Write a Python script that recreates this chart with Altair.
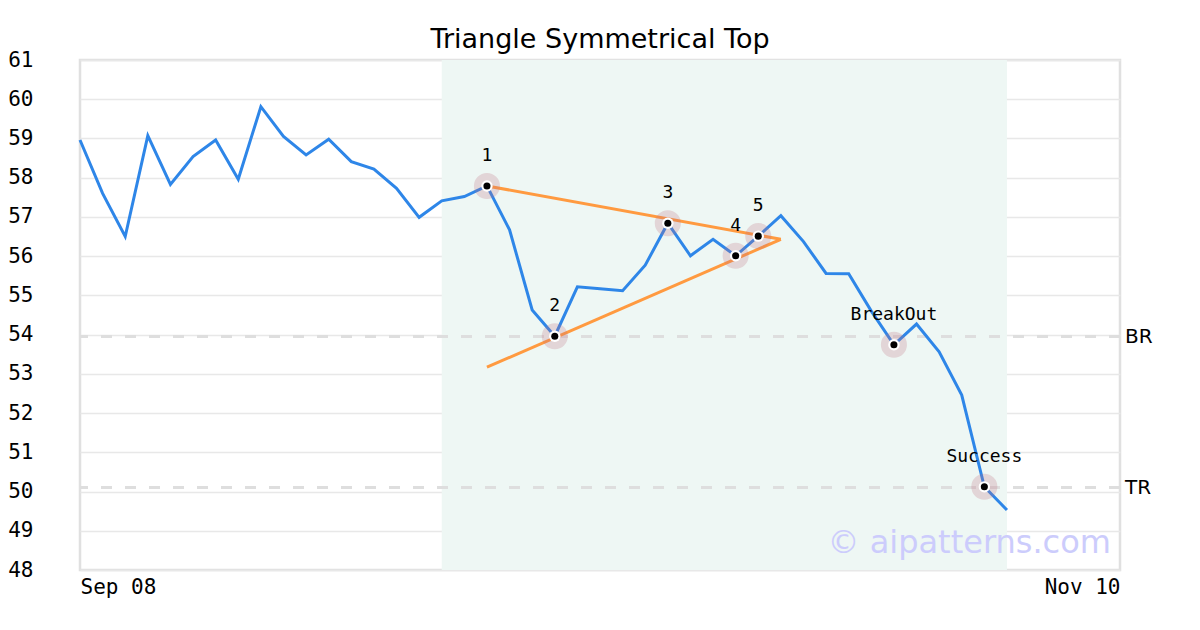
import altair as alt
import pandas as pd

# price series (one value per trading day, index 0..41)
prices = [58.96, 57.60, 56.50, 59.07, 57.83, 58.54, 58.96, 57.96, 59.81, 59.05,
          58.58, 58.98, 58.41, 58.22, 57.73, 56.99, 57.41, 57.52, 57.79, 56.67,
          54.63, 53.96, 55.22, 55.17, 55.12, 55.77, 56.84, 56.01, 56.43, 56.01,
          56.51, 57.03, 56.37, 55.56, 55.55, 54.60, 53.74, 54.27, 53.56, 52.46,
          50.12, 49.53]

# annotated pattern points
pt_idx = [18, 21, 26, 29, 30, 36, 40]
pt_labels = ["1", "2", "3", "4", "5", "BreakOut", "Success"]

# trendlines (start/end index and value)
tl_name = ["upper", "upper", "lower", "lower"]
tl_x = [18, 31, 18, 31]
tl_y = [57.79, 56.43, 53.17, 56.43]

# pattern zone
zone_start, zone_end = 16, 41

# reference levels
level_names = ["BR", "TR"]
level_values = [53.95, 50.10]

x_ticks = [0, 46]
x_tick_labels = ["Sep 08", "Nov 10"]
y_min, y_max = 48, 61
x_min, x_max = 0, 46
y_ticks = list(range(y_min, y_max + 1))

price_df = pd.DataFrame({"i": list(range(len(prices))), "price": prices})
pts_df = pd.DataFrame({"i": pt_idx, "price": [prices[k] for k in pt_idx], "label": pt_labels})
tl_df = pd.DataFrame({"name": tl_name, "i": tl_x, "price": tl_y})
zone_df = pd.DataFrame({"a": [zone_start], "b": [zone_end]})
lvl_df = pd.DataFrame({"name": level_names, "v": level_values})

mono = "DejaVu Sans Mono"
xs = alt.Scale(domain=[x_min, x_max], nice=False, zero=False)
ys = alt.Scale(domain=[y_min, y_max], nice=False, zero=False)

label_expr = "datum.value == 0 ? '%s' : '%s'" % (x_tick_labels[0], x_tick_labels[1])
x_axis = alt.Axis(values=x_ticks, labelExpr=label_expr, labelFlush=True, grid=False,
                  ticks=False, domain=False, labelFont=mono, labelFontSize=21,
                  labelColor="black", labelPadding=6, title=None)
y_axis = alt.Axis(values=y_ticks, tickCount=len(y_ticks), grid=True, gridColor="#e8e8e8",
                  gridWidth=1.5, ticks=False, domain=False, labelFont=mono, labelFontSize=21,
                  labelColor="black", labelPadding=47, labelOverlap=False, labelFlush=False,
                  title=None)

X = lambda f: alt.X(f, scale=xs, axis=x_axis)
Y = lambda f: alt.Y(f, scale=ys, axis=y_axis)

zone = alt.Chart(zone_df).mark_rect(color="#eef7f4").encode(
    x=X("a:Q"), x2="b:Q",
    y=alt.datum(y_max, scale=ys, axis=y_axis), y2=alt.datum(y_min))

levels = alt.Chart(lvl_df).mark_rule(color="#dedede", strokeWidth=3, strokeDash=[11, 13]).encode(
    y=Y("v:Q"))

level_text = alt.Chart(lvl_df).mark_text(align="left", baseline="middle", dx=5, fontSize=20,
                                          font="DejaVu Sans", color="black").encode(
    x=alt.datum(x_max, scale=xs, axis=x_axis), y=Y("v:Q"), text="name:N")

line = alt.Chart(price_df).mark_line(color="#2e86e8", strokeWidth=3).encode(
    x=X("i:Q"), y=Y("price:Q"))

trend = alt.Chart(tl_df).mark_line(color="#ff9a40", strokeWidth=3).encode(
    x=X("i:Q"), y=Y("price:Q"), detail="name:N")

halo = alt.Chart(pts_df).mark_circle(size=680, color="#c07080", opacity=0.25).encode(
    x=X("i:Q"), y=Y("price:Q"))
white = alt.Chart(pts_df).mark_circle(size=130, color="white", opacity=1).encode(
    x=X("i:Q"), y=Y("price:Q"))
dot = alt.Chart(pts_df).mark_circle(size=50, color="black", opacity=1).encode(
    x=X("i:Q"), y=Y("price:Q"))
labels = alt.Chart(pts_df).mark_text(dy=-30, fontSize=18, font=mono, color="black").encode(
    x=X("i:Q"), y=Y("price:Q"), text="label:N")

watermark = alt.Chart(pd.DataFrame({"t": ["© aipatterns.com"]})).mark_text(
    align="right", baseline="middle", fontSize=32, font="DejaVu Sans", color="#ccccfc").encode(
    x=alt.datum(45.6, scale=xs, axis=x_axis), y=alt.datum(48.7, scale=ys, axis=y_axis), text="t:N")

chart = alt.layer(zone, levels, level_text, line, trend, halo, white, dot, labels, watermark).properties(
    width=1040, height=510,
    title=alt.TitleParams("Triangle Symmetrical Top", font="DejaVu Sans", fontSize=27,
                          fontWeight="normal", color="black", anchor="middle", offset=-5),
    autosize=alt.AutoSizeParams(type="none"),
    padding={"left": 72, "top": 52, "right": 72, "bottom": 52},
).configure_view(stroke="#e0e0e0", strokeWidth=2.5).configure_axisY(tickCount=13, labelOverlap=False)

chart.save("out.html", embed_options={"renderer": "svg", "actions": False})
